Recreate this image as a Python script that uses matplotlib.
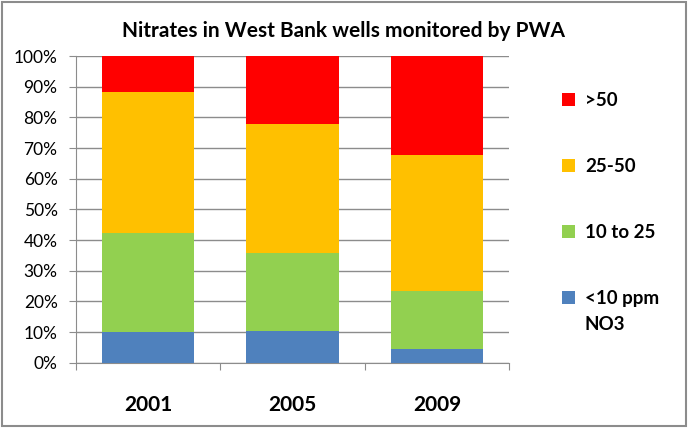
import numpy as np
import matplotlib
matplotlib.use("Agg")
import matplotlib.pyplot as plt
from matplotlib.patches import Rectangle
from matplotlib.ticker import PercentFormatter

plt.rcParams['font.family'] = ['Lato', 'DejaVu Sans']

years = ['2001', '2005', '2009']
below10 = [10.1, 10.4, 4.6]
from10to25 = [32.3, 25.3, 18.8]
from25to50 = [46.0, 42.1, 44.4]
above50 = [11.6, 22.2, 32.2]

series = [below10, from10to25, from25to50, above50]
labels = ['<10 ppm', '10 to 25', '25-50', '>50']
colors = ['#4f81bd', '#92d050', '#ffc000', '#ff0000']

fig = plt.figure(figsize=(6.88, 4.28), dpi=100)
ax = fig.add_axes([0.110, 0.1526, 0.630, 0.7164])

x = np.arange(len(years))
bottom = np.zeros(len(years))
bars = []
for vals, lab, col in zip(series, labels, colors):
    b = ax.bar(x, vals, width=0.64, bottom=bottom, color=col, label=lab,
               zorder=3, linewidth=0)
    bars.append(b)
    bottom += np.array(vals)

ax.set_xlim(-0.5, len(years) - 0.5)
ax.set_ylim(0, 100)
ax.set_yticks(np.arange(0, 101, 10))
ax.yaxis.set_major_formatter(PercentFormatter(decimals=0))
ax.yaxis.grid(True, color='#8c8c8c', linewidth=1, zorder=0)

# category labels centred on bars, tick marks between categories
ax.set_xticks(np.arange(-0.5, len(years), 1.0))
ax.set_xticklabels([])
ax.set_xticks(x, minor=True)
ax.set_xticklabels(years, minor=True, fontsize=15, fontweight='bold')
ax.tick_params(axis='x', which='minor', length=0, pad=23)
ax.tick_params(axis='x', which='major', length=5, color='#8c8c8c')
ax.tick_params(axis='y', length=5, color='#8c8c8c', labelsize=12.5, pad=8)

for s in ['top', 'right']:
    ax.spines[s].set_visible(False)
for s in ['left', 'bottom']:
    ax.spines[s].set_color('#8c8c8c')

fig.text(0.5, 1 - 31 / 428, 'Nitrates in West Bank wells monitored by PWA',
         fontsize=15, fontweight='bold', ha='center', va='center')

handles = bars[::-1]
leg = ax.legend(handles, labels[::-1], loc='upper left',
                bbox_to_anchor=(1.084, 0.938), frameon=False,
                prop={'size': 13.5, 'weight': 'bold'},
                handlelength=0.65, handleheight=0.65, handletextpad=0.55,
                labelspacing=2.62)

# second line of the last legend label, placed under its first line
fig.canvas.draw()
last = leg.get_texts()[-1]
bb = last.get_window_extent()
fig.text(bb.x0 / fig.bbox.width, (bb.y0 - 9) / fig.bbox.height, 'NO3',
         fontsize=13.5, fontweight='bold', va='top', ha='left')

# outer chart border
fig.patches.append(Rectangle((0.003, 0.005), 0.994, 0.99, transform=fig.transFigure,
                             fill=False, edgecolor='#8c8c8c', linewidth=1.5))

fig.savefig('out.png', dpi=100)
